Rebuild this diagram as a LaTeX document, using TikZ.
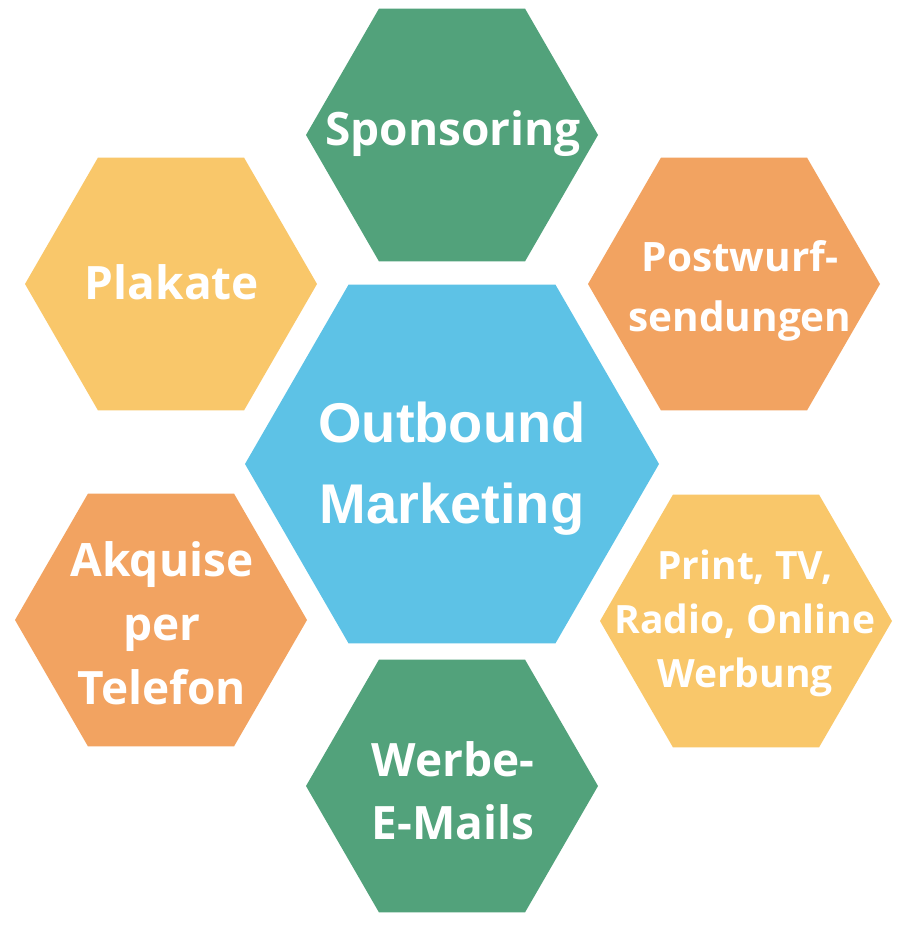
\documentclass[tikz,border=0pt]{standalone}
\usepackage{fontspec}
\setmainfont{Open Sans}
\newfontfamily\centerfont{Liberation Sans}
\definecolor{hgreen}{HTML}{52A27B}
\definecolor{hyellow}{HTML}{F9C76A}
\definecolor{horange}{HTML}{F2A361}
\definecolor{hblue}{HTML}{5DC2E6}
\tikzset{
  hexlabel/.style={text=white, align=center, font=\bfseries\fontsize{46}{62}\selectfont, inner sep=0pt},
}
\newcommand\hexagonat[4]{%
  \fill[#4, shift={(#1,#2)}] (0:#3) -- (60:#3) -- (120:#3) -- (180:#3) -- (240:#3) -- (300:#3) -- cycle;}
\begin{document}
\begin{tikzpicture}[x=1pt, y=-1pt]
\useasboundingbox (0,0) rectangle (905,930);
\fill[white] (0,0) rectangle (905,930);
% hexagons
\hexagonat{452}{135}{146}{hgreen}
\hexagonat{171}{284}{146}{hyellow}
\hexagonat{734}{284}{146}{horange}
\hexagonat{452}{464}{207}{hblue}
\hexagonat{161}{620}{146}{horange}
\hexagonat{746}{621}{146}{hyellow}
\hexagonat{452}{786}{146}{hgreen}
% labels
\node[hexlabel] (spons) at (453,134) {Sponsoring};
\node[hexlabel] (plak) at (172,282) {Plakate};
\node[hexlabel, font=\bfseries\fontsize{40.5}{60}\selectfont] (post) at (740,291) {Postwurf-\\sendungen};
\node[hexlabel, font=\centerfont\bfseries\fontsize{56}{81}\selectfont] (outb) at (452,469) {Outbound\\Marketing};
\node[hexlabel, font=\bfseries\fontsize{46}{64}\selectfont] (akq) at (162,623) {Akquise\\per\\Telefon};
\node[hexlabel, font=\bfseries\fontsize{39}{54}\selectfont] (print) at (745,623) {Print, TV,\\Radio, Online\\Werbung};
\node[hexlabel, font=\bfseries\fontsize{46}{63}\selectfont] (werbe) at (453,791) {Werbe-\\E-Mails};
\end{tikzpicture}
\end{document}
